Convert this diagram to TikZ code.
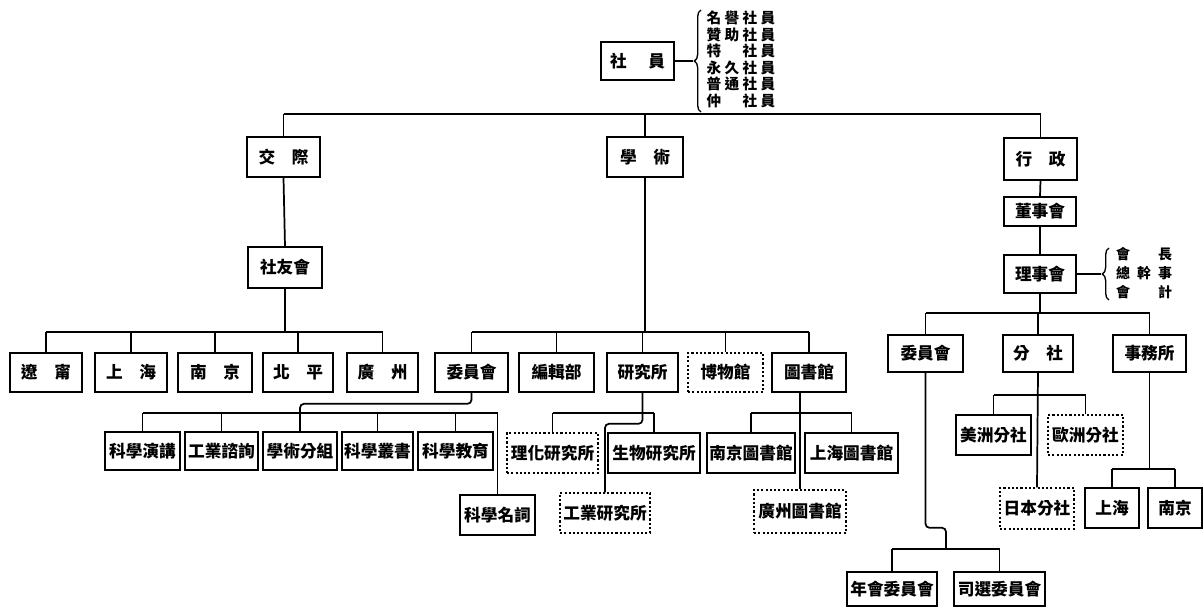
\documentclass[tikz,border=0pt]{standalone}
\usepackage{fontspec}
\newfontfamily\cjk{Noto Sans CJK TC}
\usetikzlibrary{decorations.pathreplacing}
\tikzset{
  x=0.75pt, y=-0.75pt,
  box/.style={draw, line width=1.2pt, inner sep=0pt, font=\cjk\bfseries\fontsize{12.5}{14}\selectfont},
  dbox/.style={box, line width=0.8pt, dash pattern=on 1.6pt off 1.6pt},
  conn/.style={line width=1.3pt},
  brc/.style={line width=1pt, decorate, decoration={brace, amplitude=5pt}},
  listtxt/.style={inner sep=0pt, font=\cjk\bfseries\fontsize{11}{12}\selectfont},
  listtxtb/.style={inner sep=0pt, font=\cjk\bfseries\fontsize{10.5}{12}\selectfont},
}
\newcommand\bx[7][box]{\node[#1, minimum width={(#5-#3)*0.75pt}, minimum height={(#6-#4)*0.75pt}] (#2) at ({(#3+#5)/2},{(#4+#6)/2}) {#7};}
\newcommand\gap{\hspace{1em}}
\newcommand\fourc[4]{\makebox[13.5pt]{#1}\makebox[13.5pt]{#2}\makebox[13.5pt]{#3}\makebox[13.5pt]{#4}}
\newcommand\threec[3]{\makebox[15.75pt]{#1}\makebox[15.75pt]{#2}\makebox[15.75pt]{#3}}
\begin{document}
\begin{tikzpicture}
\useasboundingbox (0,0) rectangle (1204,608);
% boxes
\bx{sheyuan}{601}{42}{674}{80}{社\hspace{1.3em}員}
\bx{jiaoji}{247}{137}{320}{177}{交\gap 際}
\bx{xueshu}{607}{137}{683}{177}{學\gap 術}
\bx{xingzheng}{1004}{138}{1077}{180}{行\gap 政}
\bx{sheyou}{248}{247}{322}{288}{社友會}
\bx{liaoning}{10}{353}{82}{392}{遼\gap 甯}
\bx{shanghai}{95}{353}{167}{392}{上\gap 海}
\bx{nanjing}{178}{353}{252}{392}{南\gap 京}
\bx{beiping}{263}{353}{333}{392}{北\gap 平}
\bx{guangzhou}{347}{353}{418}{392}{廣\gap 州}
\bx{weiyuan}{435}{353}{508}{392}{委員會}
\bx{bianji}{519}{353}{594}{392}{編輯部}
\bx{yanjiu}{607}{353}{678}{392}{研究所}
\bx[dbox]{bowu}{688}{353}{763}{392}{博物館}
\bx{tushu}{772}{353}{846}{392}{圖書館}
\bx{kxyj}{105}{432}{180}{470}{科學演講}
\bx{gyzx}{185}{432}{258}{470}{工業諮詢}
\bx{xsfz}{263}{432}{337}{470}{學術分組}
\bx{kxcs}{342}{432}{413}{470}{科學叢書}
\bx{kxjy}{418}{432}{493}{470}{科學教育}
\bx{kxmc}{460}{495}{535}{535}{科學名詞}
\bx[dbox]{lhyj}{507}{433}{598}{473}{理化研究所}
\bx{swyj}{608}{433}{700}{473}{生物研究所}
\bx[dbox]{gyyj}{560}{493}{650}{533}{工業研究所}
\bx{njtsg}{707}{433}{795}{473}{南京圖書館}
\bx{shtsg}{805}{433}{898}{473}{上海圖書館}
\bx[dbox]{gztsg}{754}{490}{846}{533}{廣州圖書館}
\bx{dongshi}{1004}{197}{1076}{226}{董事會}
\bx{lishi}{1004}{255}{1076}{293}{理事會}
\bx{weiyuan2}{888}{335}{963}{372}{委員會}
\bx{fenshe}{1003}{335}{1073}{372}{分\gap 社}
\bx{shiwu}{1113}{335}{1186}{372}{事務所}
\bx{meizhou}{956}{415}{1031}{455}{美洲分社}
\bx[dbox]{ouzhou}{1048}{415}{1123}{455}{歐洲分社}
\bx[dbox]{riben}{1000}{488}{1074}{529}{日本分社}
\bx{shb}{1085}{488}{1139}{528}{上海}
\bx{njb}{1148}{488}{1202}{528}{南京}
\bx{nianhui}{847}{572}{937}{606}{年會委員會}
\bx{sixuan}{954}{572}{1045}{606}{司選委員會}
% member list with brace
\draw[brc] (701,112) -- (701,10);
\coordinate (brtip) at (693,61);
\draw[conn] (sheyuan.east) -- (brtip);
\node[listtxt] (m1) at (741,18) {\fourc{名}{譽}{社}{員}};
\node[listtxt] (m2) at (741,34.5) {\fourc{贊}{助}{社}{員}};
\node[listtxt] (m3) at (741,51) {\fourc{特}{}{社}{員}};
\node[listtxt] (m4) at (741,67.5) {\fourc{永}{久}{社}{員}};
\node[listtxt] (m5) at (741,84) {\fourc{普}{通}{社}{員}};
\node[listtxt] (m6) at (741,100.5) {\fourc{仲}{}{社}{員}};
% council list with brace
\draw[brc] (1109,300) -- (1109,248);
\coordinate (brtipb) at (1101,274);
\draw[conn] (lishi.east) -- (lishi.east -| brtipb);
\node[listtxtb] (r1) at (1144,254) {\threec{會}{}{長}};
\node[listtxtb] (r2) at (1144,273) {\threec{總}{幹}{事}};
\node[listtxtb] (r3) at (1144,292) {\threec{會}{}{計}};
% main bar
\coordinate (mainbar) at (0,114);
\draw[conn] (jiaoji.north |- mainbar) -- (xingzheng.north |- mainbar);
\foreach \n in {jiaoji,xueshu,xingzheng} \draw[conn] (\n.north) -- (\n.north |- mainbar);
% 交際
\draw[conn] (jiaoji.south) -- (sheyou.north);
\coordinate (sybar) at (0,332);
\draw[conn] (sheyou.south) -- (sheyou.south |- sybar);
\draw[conn] (liaoning.north |- sybar) -- (guangzhou.north |- sybar);
\foreach \n in {liaoning,shanghai,nanjing,beiping,guangzhou} \draw[conn] (\n.north) -- (\n.north |- sybar);
% 學術
\draw[conn] (xueshu.south) -- (xueshu.south |- sybar);
\draw[conn] (weiyuan.north |- sybar) -- (tushu.north |- sybar);
\foreach \n in {weiyuan,bianji,yanjiu,bowu,tushu} \draw[conn] (\n.north) -- (\n.north |- sybar);
\coordinate (wbar) at (0,413);
\draw[conn, rounded corners=3pt] (weiyuan.south) -- ++(0,11) -| (xsfz.north |- wbar);
\draw[conn] (kxyj.north |- wbar) -- (kxmc.north |- wbar) -- (kxmc.north);
\foreach \n in {kxyj,gyzx,xsfz,kxcs,kxjy} \draw[conn] (\n.north) -- (\n.north |- wbar);
\draw[conn] (lhyj.north |- wbar) -- (swyj.north |- wbar);
\foreach \n in {lhyj,swyj} \draw[conn] (\n.north) -- (\n.north |- wbar);
\draw[conn, rounded corners=3pt] (yanjiu.south) -- ++(0,31) -| (gyyj.north);
\draw[conn] (njtsg.north |- wbar) -- (shtsg.north |- wbar);
\foreach \n in {njtsg,shtsg} \draw[conn] (\n.north) -- (\n.north |- wbar);
\draw[conn] (tushu.south -| gztsg.north) -- (gztsg.north);
% 行政
\draw[conn] (xingzheng.south) -- (dongshi.north);
\draw[conn] (dongshi.south) -- (lishi.north);
\coordinate (lbar) at (0,313);
\draw[conn] (lishi.south) -- (lishi.south |- lbar);
\draw[conn] (weiyuan2.north |- lbar) -- (shiwu.north |- lbar);
\foreach \n in {weiyuan2,fenshe,shiwu} \draw[conn] (\n.north) -- (\n.north |- lbar);
\coordinate (fbar) at (0,395);
\draw[conn] (fenshe.south) -- (riben.north);
\draw[conn] (meizhou.north |- fbar) -- (ouzhou.north |- fbar);
\foreach \n in {meizhou,ouzhou} \draw[conn] (\n.north) -- (\n.north |- fbar);
\coordinate (sbar) at (0,469);
\draw[conn] (shiwu.south) -- (shiwu.south |- sbar);
\draw[conn] (shb.north |- sbar) -- (njb.north |- sbar);
\foreach \n in {shb,njb} \draw[conn] (\n.north) -- (\n.north |- sbar);
\coordinate (nbar) at (0,549);
\coordinate (nmid) at (946,549);
\draw[conn, rounded corners=3pt] (weiyuan2.south) -- ++(0,155) -| (nmid);
\draw[conn] (nianhui.north |- nbar) -- (sixuan.north |- nbar);
\foreach \n in {nianhui,sixuan} \draw[conn] (\n.north) -- (\n.north |- nbar);
\end{tikzpicture}
\end{document}
